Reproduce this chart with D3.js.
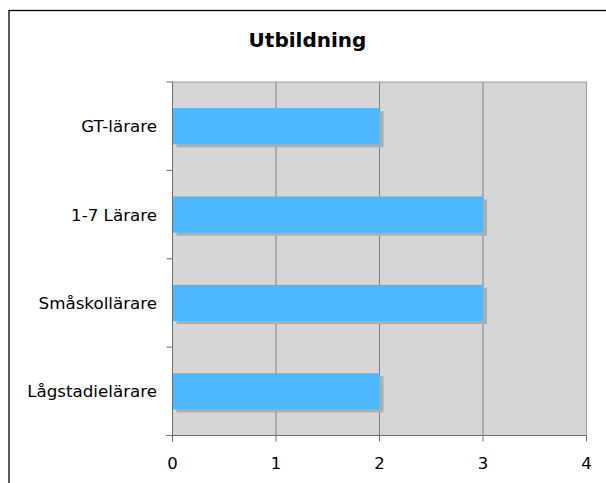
<!DOCTYPE html>
<html><head><meta charset="utf-8">
<script src="https://cdn.jsdelivr.net/npm/d3@7"></script>
<style>body{margin:0;background:#fff}svg{display:block}</style>
</head><body>
<svg id="c" width="606" height="483"></svg>
<script>
const categories = ["GT-lärare", "1-7 Lärare", "Småskollärare", "Lågstadielärare"];
const values = [2, 3, 3, 2];
const xTicks = [0, 1, 2, 3, 4];
const title = "Utbildning";

const svg = d3.select("#c");
const font = "'DejaVu Sans', Verdana, sans-serif";
const m = {left: 172.5, right: 586.5, top: 82, bottom: 435.5};

// outer frame
svg.append("rect").attr("x", 9).attr("y", 10.5).attr("width", 620).attr("height", 500)
  .attr("fill", "none").attr("stroke", "#000").attr("stroke-width", 1.3);

const x = d3.scaleLinear().domain([0, 4]).range([m.left, m.right]);
const y = d3.scaleBand().domain(categories).range([m.top, m.bottom]).paddingInner(0.59).paddingOuter(0.295);

// plot background
svg.append("rect").attr("x", m.left).attr("y", m.top).attr("width", m.right - m.left).attr("height", m.bottom - m.top)
  .attr("fill", "#d6d6d6").attr("stroke", "#a0a0a0").attr("stroke-width", 1);

// gridlines
svg.append("g").selectAll("line").data(xTicks.slice(1, -1)).join("line")
  .attr("x1", d => x(d)).attr("x2", d => x(d)).attr("y1", m.top).attr("y2", m.bottom)
  .attr("stroke", "#808080").attr("stroke-width", 1);

// shadows
svg.append("g").selectAll("rect").data(values).join("rect")
  .attr("x", x(0) + 4).attr("y", (d, i) => y(categories[i]) + 3)
  .attr("width", d => x(d) - x(0)).attr("height", y.bandwidth())
  .attr("fill", "#aeaeae");
// bars
svg.append("g").selectAll("rect").data(values).join("rect")
  .attr("x", x(0)).attr("y", (d, i) => y(categories[i]))
  .attr("width", d => x(d) - x(0)).attr("height", y.bandwidth())
  .attr("fill", "#4db8ff");

// y axis
const bounds = d3.range(categories.length + 1).map(i => m.top + i * (m.bottom - m.top) / categories.length);
svg.append("line").attr("x1", m.left).attr("x2", m.left).attr("y1", m.top).attr("y2", m.bottom + 6)
  .attr("stroke", "#707070");
svg.append("g").selectAll("line").data(bounds).join("line")
  .attr("x1", m.left - 6).attr("x2", m.left).attr("y1", d => d).attr("y2", d => d)
  .attr("stroke", "#707070");
svg.append("g").selectAll("text").data(categories).join("text")
  .attr("x", m.left - 15.5).attr("y", d => y(d) + y.bandwidth() / 2)
  .attr("dy", "0.36em").attr("text-anchor", "end")
  .attr("font-family", font).attr("font-size", 16.7).attr("fill", "#000").text(d => d);

// x axis
svg.append("line").attr("x1", m.left - 6).attr("x2", m.right).attr("y1", m.bottom).attr("y2", m.bottom)
  .attr("stroke", "#707070");
svg.append("g").selectAll("line").data(xTicks).join("line")
  .attr("x1", d => x(d)).attr("x2", d => x(d)).attr("y1", m.bottom).attr("y2", m.bottom + 6)
  .attr("stroke", "#707070");
svg.append("g").selectAll("text").data(xTicks).join("text")
  .attr("x", d => x(d)).attr("y", 468.5).attr("text-anchor", "middle")
  .attr("font-family", font).attr("font-size", 16.5).attr("fill", "#000").text(d => d);

// title
svg.append("text").attr("x", 307.5).attr("y", 46.5).attr("text-anchor", "middle")
  .attr("font-family", font).attr("font-weight", "bold").attr("font-size", 20).attr("fill", "#000").text(title);
</script>
</body></html>
